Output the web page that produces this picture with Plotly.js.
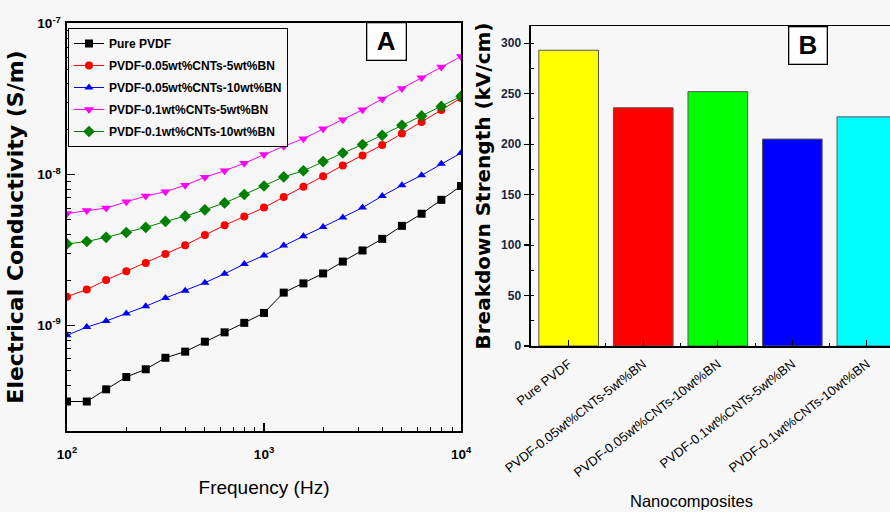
<!DOCTYPE html>
<html>
<head>
<meta charset="utf-8">
<script src="https://cdn.plot.ly/plotly-3.0.1.min.js"></script>
<style>
html,body{margin:0;padding:0;background:#f7f7f7;overflow:hidden;}
#chart{width:890px;height:512px;}
</style>
</head>
<body>
<div id="chart"></div>
<script>
// ---- Panel A data: frequency (Hz) and conductivity (S/m) ----
const frequency = [100,126,158,200,251,316,398,501,631,794,1000,1259,1585,1995,2512,3162,3981,5012,6310,7943,10000];
const seriesNames = ['Pure PVDF','PVDF-0.05wt%CNTs-5wt%BN','PVDF-0.05wt%CNTs-10wt%BN','PVDF-0.1wt%CNTs-5wt%BN','PVDF-0.1wt%CNTs-10wt%BN'];
const purePVDF   = [3.13e-10,3.13e-10,3.77e-10,4.55e-10,5.12e-10,6.1e-10,6.7e-10,7.8e-10,9.0e-10,1.04e-9,1.21e-9,1.65e-9,1.90e-9,2.21e-9,2.65e-9,3.14e-9,3.75e-9,4.57e-9,5.5e-9,6.8e-9,8.4e-9];
const cnt005bn5  = [1.55e-9,1.73e-9,2.0e-9,2.29e-9,2.59e-9,2.97e-9,3.40e-9,3.97e-9,4.62e-9,5.27e-9,6.04e-9,7.1e-9,8.3e-9,9.75e-9,1.15e-8,1.34e-8,1.57e-8,1.87e-8,2.23e-8,2.68e-8,3.22e-8];
const cnt005bn10 = [8.6e-10,9.75e-10,1.07e-9,1.20e-9,1.34e-9,1.52e-9,1.70e-9,1.92e-9,2.20e-9,2.55e-9,2.91e-9,3.39e-9,3.90e-9,4.5e-9,5.19e-9,6.04e-9,7.2e-9,8.5e-9,9.9e-9,1.18e-8,1.39e-8];
const cnt01bn5   = [5.52e-9,5.78e-9,6.0e-9,6.6e-9,7.2e-9,7.7e-9,8.5e-9,9.6e-9,1.06e-8,1.19e-8,1.36e-8,1.54e-8,1.73e-8,2.01e-8,2.31e-8,2.69e-8,3.17e-8,3.72e-8,4.38e-8,5.16e-8,6.07e-8];
const cnt01bn10  = [3.47e-9,3.6e-9,3.84e-9,4.13e-9,4.46e-9,4.89e-9,5.3e-9,5.84e-9,6.49e-9,7.38e-9,8.4e-9,9.65e-9,1.06e-8,1.22e-8,1.39e-8,1.58e-8,1.82e-8,2.12e-8,2.45e-8,2.83e-8,3.30e-8];

const freqTickVals = [100,1000,10000];
const freqTickText = ['10<sup>2</sup>','10<sup>3</sup>','10<sup>4</sup>'];
const condTickVals = [1e-9,1e-8,1e-7];
const condTickText = ['10<sup>-9</sup>','10<sup>-8</sup>','10<sup>-7</sup>'];

// ---- Panel B data ----
const composites = ['Pure PVDF','PVDF-0.05wt%CNTs-5wt%BN','PVDF-0.05wt%CNTs-10wt%BN','PVDF-0.1wt%CNTs-5wt%BN','PVDF-0.1wt%CNTs-10wt%BN'];
const breakdown = [293,236,252,205,227];
const strengthTicks = [0,50,100,150,200,250,300];

const SANS = '"Liberation Sans", Arial, sans-serif';
const WIDE = '"DejaVu Sans", "Liberation Sans", sans-serif';

const lineColors = ['#000000','#ff0000','#0000ff','#ff00ff','#008000'];
const symbols = ['square','circle','triangle-up','triangle-down','diamond'];
const ySeries = [purePVDF,cnt005bn5,cnt005bn10,cnt01bn5,cnt01bn10];

const traces = ySeries.map((ys,i)=>({
  type:'scatter', mode:'lines+markers', name: seriesNames[i], legendgroup:'g'+i,
  x: frequency, y: ys, xaxis:'x', yaxis:'y',
  line:{color:lineColors[i], width:1},
  marker:{symbol:symbols[i], color:lineColors[i], size: (i===3||i===4)?9:8}
}));

traces.push({
  type:'bar', x: composites, y: breakdown, xaxis:'x2', yaxis:'y2',
  showlegend:false,
  marker:{color:['#ffff00','#ff0000','#00ff00','#0000ff','#00ffff'], line:{color:'#555', width:1}}
});
// helper trace for the minor-tick overlay axis of panel B
traces.push({type:'scatter', x:[], y:[], xaxis:'x3', yaxis:'y2', showlegend:false, hoverinfo:'skip'});

// minor tick positions (log axes)
const minorX = []; [100,1000].forEach(d=>{for(let k=2;k<10;k++) minorX.push(d*k);});
const minorY = []; [1e-10,1e-9,1e-8].forEach(d=>{for(let k=2;k<10;k++) minorY.push(d*k);});

const layout = {
  width:890, height:512,
  margin:{l:0,r:0,t:0,b:0},
  paper_bgcolor:'#f7f7f7', plot_bgcolor:'#f7f7f7',
  font:{family:SANS, color:'#000'},
  showlegend:true,
  legend:{x:0.0764, y:0.9453, xanchor:'left', yanchor:'top', tracegroupgap:3,
    bgcolor:'#f7f7f7', bordercolor:'#000', borderwidth:1,
    font:{family:SANS, size:12, weight:'bold', color:'#000'}},
  xaxis:{type:'log', domain:[0.07528,0.5180], range:[2,4], anchor:'y',
    tickvals:freqTickVals, ticktext:freqTickText,
    ticks:'inside', ticklen:8, tickwidth:1.3, tickcolor:'#000',
    minor:{tickvals:minorX, ticks:'inside', ticklen:4, tickwidth:1, tickcolor:'#000'},
    showline:true, linecolor:'#000', linewidth:1.5, mirror:true,
    showgrid:false, zeroline:false, ticklabelstandoff:10,
    tickfont:{family:SANS, size:13.5, weight:'bold'},
    title:{text:'Frequency (Hz)', font:{family:SANS, size:19}, standoff:20}},
  yaxis:{type:'log', domain:[0.1582,0.9551], range:[-9.70,-6.995], anchor:'x',
    tickvals:condTickVals, ticktext:condTickText,
    ticks:'inside', ticklen:8, tickwidth:1.3, tickcolor:'#000',
    minor:{tickvals:minorY, ticks:'inside', ticklen:4, tickwidth:1, tickcolor:'#000'},
    showline:true, linecolor:'#000', linewidth:1.5, mirror:true,
    showgrid:false, zeroline:false, ticklabelstandoff:2,
    tickfont:{family:SANS, size:13.5, weight:'bold'},
    title:{text:'Electrical Conductivity (S/m)', font:{family:WIDE, size:22, weight:'bold'}, standoff:7}},
  xaxis2:{type:'category', domain:[0.5966,1], range:[-0.506,4.31], anchor:'y2',
    ticks:'inside', ticklen:6, tickwidth:1.2, tickcolor:'#000', tickangle:-38,
    showline:true, linecolor:'#000', linewidth:1.5, mirror:true,
    showgrid:false, zeroline:false, ticklabelstandoff:4,
    tickfont:{family:SANS, size:13, color:'#000'}},
  xaxis3:{type:'linear', overlaying:'x2', anchor:'y2', range:[-0.506,4.31],
    tickvals:[0.5,1.5,2.5,3.5], ticks:'inside', ticklen:3, tickwidth:1, tickcolor:'#000',
    showticklabels:false, showline:false, showgrid:false, zeroline:false},
  yaxis2:{domain:[0.3242,0.9492], range:[0,317], anchor:'x2',
    tickvals:strengthTicks,
    ticks:'outside', ticklen:5, tickwidth:1.2, tickcolor:'#000',
    minor:{dtick:25, ticks:'inside', ticklen:3, tickwidth:1, tickcolor:'#000'},
    showline:true, linecolor:'#000', linewidth:1.5, mirror:false,
    showgrid:false, zeroline:false, ticklabelstandoff:1,
    tickfont:{family:SANS, size:12, weight:'bold', color:'#1a2340'},
    title:{text:'Breakdown Strength (kV/cm)', font:{family:WIDE, size:20, weight:'bold'}, standoff:5}},
  annotations:[
    {text:'<b>A</b>', xref:'paper', yref:'paper', x:0.4348, y:0.9199, xanchor:'center', yanchor:'middle',
     showarrow:false, font:{family:SANS, size:26, color:'#000'},
     width:36, height:34, bordercolor:'#000', borderwidth:1.3, borderpad:1, bgcolor:'#ffffff'},
    {text:'<b>B</b>', xref:'paper', yref:'paper', x:0.9079, y:0.9111, xanchor:'center', yanchor:'middle',
     showarrow:false, font:{family:SANS, size:26, color:'#000'},
     width:35, height:34, bordercolor:'#000', borderwidth:1.3, borderpad:1, bgcolor:'#ffffff'},
    {text:'Nanocomposites', xref:'paper', yref:'paper', x:0.7775, y:0.022, xanchor:'center', yanchor:'middle',
     showarrow:false, font:{family:SANS, size:16.5, color:'#000'}}
  ]
};

Plotly.newPlot('chart', traces, layout, {displayModeBar:false, staticPlot:true});
</script>
</body>
</html>
